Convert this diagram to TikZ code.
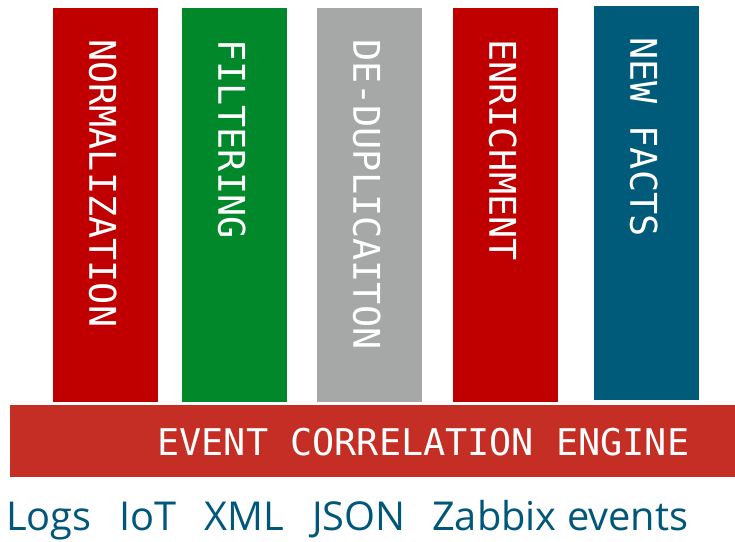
\documentclass[tikz,border=0pt]{standalone}
\usepackage{fontspec}
\setmainfont{Open Sans}
\newfontfamily\monofont{DejaVu Sans Mono}
\usetikzlibrary{positioning}
\usetikzlibrary{calc}
\definecolor{mred}{RGB}{192, 0, 0}
\definecolor{mgreen}{RGB}{0, 136, 43}
\definecolor{mgrey}{RGB}{165, 168, 166}
\definecolor{mblue}{RGB}{0, 90, 122}
\definecolor{mbase}{RGB}{197, 46, 37}
\definecolor{mtext}{RGB}{0, 87, 122}
\tikzset{stage/.style = {fill=#1, inner sep = 0, minimum width = 105, minimum height = 394, anchor = north west}}
\tikzset{stagelabel/.style = {rotate = -90, anchor = west, inner sep = 0, text = white, font = \monofont\fontsize{36.8}{36.8}\selectfont}}
\tikzset{source/.style = {anchor = base west, inner sep = 0, text = mtext, font = \fontsize{39.8}{39.8}\selectfont}}

\begin{document}
\begin{tikzpicture}[x = 1pt, y = -1pt]
    \useasboundingbox (0, 0) rectangle (735, 541);

    \foreach \n/\x/\y/\c/\t in {norm/53/8/mred/NORMALIZATION, filt/182/8/mgreen/FILTERING, dedup/317/8/mgrey/DE-DUPLICAITON, enrich/453/8/mred/ENRICHMENT, facts/594/6/mblue/NEW FACTS} {
      \node [stage=\c] (\n) at (\x, \y) {};
      \node [stagelabel] (\n-label) at ($(\n.north) + (-3, 31)$) {\t};
    }

    \node [stage=mbase, minimum width = 725, minimum height = 72] (engine) at (10, 405) {};
    \node [stagelabel, rotate = 90, anchor = east] (engine-label) at ($(engine.east) + (-46, 1)$) {EVENT CORRELATION ENGINE};

    \foreach \n/\x/\t in {logs/6/Logs, iot/119/IoT, xml/204/XML, json/312/JSON, zabbix/432/Zabbix events} {
      \node [source] (\n) at (\x, 530) {\t};
    }
  \end{tikzpicture}
\end{document}
